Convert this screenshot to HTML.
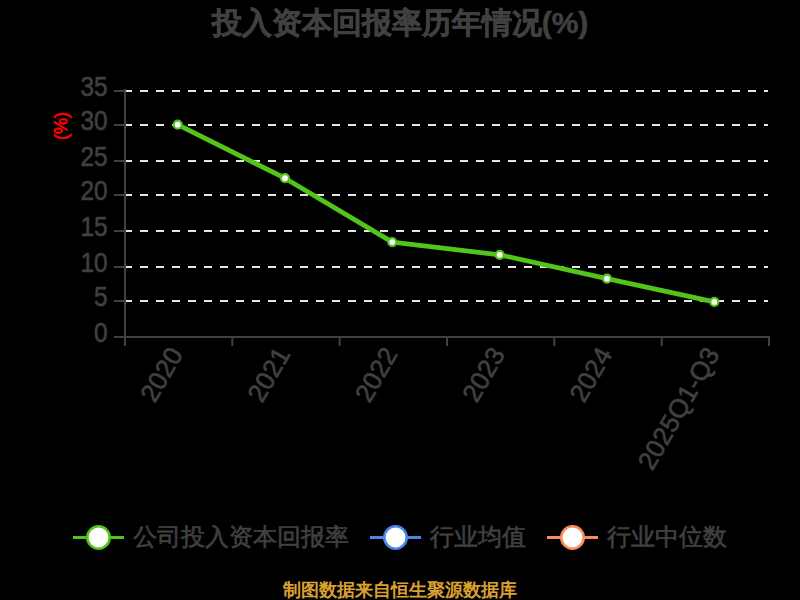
<!DOCTYPE html>
<html><head><meta charset="utf-8"><style>
html,body{margin:0;padding:0;background:#000;width:800px;height:600px;overflow:hidden}
svg{display:block}
text{font-family:"Liberation Sans",sans-serif}
.yl{font-size:28px;fill:#404040;stroke:#404040;stroke-width:0.6px}
.xl{font-size:26px;fill:#404040;stroke:#404040;stroke-width:0.6px}
.lg{font-size:24px;fill:#404040;stroke:#404040;stroke-width:0.6px}
.tt{font-size:30px;font-weight:bold;fill:#404040;stroke:#404040;stroke-width:0.5px}
.yu{font-size:18px;fill:#ff0000;stroke:#ff0000;stroke-width:0.7px}
.ft{font-size:18px;font-weight:bold;fill:#dba030}
</style></head><body>
<svg width="800" height="600" viewBox="0 0 800 600">
<line x1="124" y1="91" x2="768" y2="91" stroke="#e5e5e5" stroke-width="2" stroke-dasharray="8 8"/>
<line x1="124" y1="125" x2="768" y2="125" stroke="#e5e5e5" stroke-width="2" stroke-dasharray="8 8"/>
<line x1="124" y1="161" x2="768" y2="161" stroke="#e5e5e5" stroke-width="2" stroke-dasharray="8 8"/>
<line x1="124" y1="195" x2="768" y2="195" stroke="#e5e5e5" stroke-width="2" stroke-dasharray="8 8"/>
<line x1="124" y1="231" x2="768" y2="231" stroke="#e5e5e5" stroke-width="2" stroke-dasharray="8 8"/>
<line x1="124" y1="267" x2="768" y2="267" stroke="#e5e5e5" stroke-width="2" stroke-dasharray="8 8"/>
<line x1="124" y1="301" x2="768" y2="301" stroke="#e5e5e5" stroke-width="2" stroke-dasharray="8 8"/>
<line x1="125" y1="89" x2="125" y2="346" stroke="#404040" stroke-width="2"/>
<line x1="114" y1="91" x2="125" y2="91" stroke="#404040" stroke-width="2"/>
<text x="0" y="0" text-anchor="end" class="yl" transform="translate(107.5,95.8) scale(0.87,1)">35</text>
<line x1="114" y1="125" x2="125" y2="125" stroke="#404040" stroke-width="2"/>
<text x="0" y="0" text-anchor="end" class="yl" transform="translate(107.5,129.8) scale(0.87,1)">30</text>
<line x1="114" y1="161" x2="125" y2="161" stroke="#404040" stroke-width="2"/>
<text x="0" y="0" text-anchor="end" class="yl" transform="translate(107.5,165.8) scale(0.87,1)">25</text>
<line x1="114" y1="195" x2="125" y2="195" stroke="#404040" stroke-width="2"/>
<text x="0" y="0" text-anchor="end" class="yl" transform="translate(107.5,199.8) scale(0.87,1)">20</text>
<line x1="114" y1="231" x2="125" y2="231" stroke="#404040" stroke-width="2"/>
<text x="0" y="0" text-anchor="end" class="yl" transform="translate(107.5,235.8) scale(0.87,1)">15</text>
<line x1="114" y1="267" x2="125" y2="267" stroke="#404040" stroke-width="2"/>
<text x="0" y="0" text-anchor="end" class="yl" transform="translate(107.5,271.8) scale(0.87,1)">10</text>
<line x1="114" y1="301" x2="125" y2="301" stroke="#404040" stroke-width="2"/>
<text x="0" y="0" text-anchor="end" class="yl" transform="translate(107.5,305.8) scale(0.87,1)">5</text>
<line x1="114" y1="337" x2="125" y2="337" stroke="#404040" stroke-width="2"/>
<text x="0" y="0" text-anchor="end" class="yl" transform="translate(107.5,341.8) scale(0.87,1)">0</text>
<line x1="114" y1="337" x2="770" y2="337" stroke="#404040" stroke-width="2"/>
<line x1="125.0" y1="337" x2="125.0" y2="346" stroke="#404040" stroke-width="2"/>
<line x1="232.3" y1="337" x2="232.3" y2="346" stroke="#404040" stroke-width="2"/>
<line x1="339.7" y1="337" x2="339.7" y2="346" stroke="#404040" stroke-width="2"/>
<line x1="447.0" y1="337" x2="447.0" y2="346" stroke="#404040" stroke-width="2"/>
<line x1="554.3" y1="337" x2="554.3" y2="346" stroke="#404040" stroke-width="2"/>
<line x1="661.7" y1="337" x2="661.7" y2="346" stroke="#404040" stroke-width="2"/>
<line x1="769.0" y1="337" x2="769.0" y2="346" stroke="#404040" stroke-width="2"/>
<text x="0" y="0" text-anchor="end" class="xl" transform="translate(183.7,354) rotate(-60)">2020</text>
<text x="0" y="0" text-anchor="end" class="xl" transform="translate(291.0,354) rotate(-60)">2021</text>
<text x="0" y="0" text-anchor="end" class="xl" transform="translate(398.3,354) rotate(-60)">2022</text>
<text x="0" y="0" text-anchor="end" class="xl" transform="translate(505.7,354) rotate(-60)">2023</text>
<text x="0" y="0" text-anchor="end" class="xl" transform="translate(613.0,354) rotate(-60)">2024</text>
<text x="0" y="0" text-anchor="end" class="xl" transform="translate(720.3,354) rotate(-60)">2025Q1-Q3</text>
<polyline points="177.7,124.7 285.0,178.2 392.3,242.1 499.7,254.8 607.0,278.7 714.3,301.9" fill="none" stroke="#52c41a" stroke-width="4.8" stroke-linejoin="round"/>
<circle cx="177.7" cy="124.7" r="4" fill="#fff" stroke="#52c41a" stroke-width="2.2"/>
<circle cx="285.0" cy="178.2" r="4" fill="#fff" stroke="#52c41a" stroke-width="2.2"/>
<circle cx="392.3" cy="242.1" r="4" fill="#fff" stroke="#52c41a" stroke-width="2.2"/>
<circle cx="499.7" cy="254.8" r="4" fill="#fff" stroke="#52c41a" stroke-width="2.2"/>
<circle cx="607.0" cy="278.7" r="4" fill="#fff" stroke="#52c41a" stroke-width="2.2"/>
<circle cx="714.3" cy="301.9" r="4" fill="#fff" stroke="#52c41a" stroke-width="2.2"/>
<line x1="73" y1="537.5" x2="124" y2="537.5" stroke="#52c41a" stroke-width="3"/>
<circle cx="98.5" cy="537.5" r="11.2" fill="#fff" stroke="#52c41a" stroke-width="2.6"/>
<text x="133" y="545" class="lg">公司投入资本回报率</text>
<line x1="370" y1="537.5" x2="421" y2="537.5" stroke="#4a86e8" stroke-width="3"/>
<circle cx="395.5" cy="537.5" r="11.2" fill="#fff" stroke="#4a86e8" stroke-width="2.6"/>
<text x="430" y="545" class="lg">行业均值</text>
<line x1="547" y1="537.5" x2="598" y2="537.5" stroke="#fa8c5a" stroke-width="3"/>
<circle cx="572.5" cy="537.5" r="11.2" fill="#fff" stroke="#fa8c5a" stroke-width="2.6"/>
<text x="607" y="545" class="lg">行业中位数</text>
<text x="400" y="33" text-anchor="middle" class="tt">投入资本回报率历年情况(%)</text>
<text x="0" y="0" text-anchor="middle" class="yu" transform="translate(67,126) rotate(-90)">(%)</text>
<text x="400" y="595.5" text-anchor="middle" class="ft">制图数据来自恒生聚源数据库</text>
</svg>
</body></html>
